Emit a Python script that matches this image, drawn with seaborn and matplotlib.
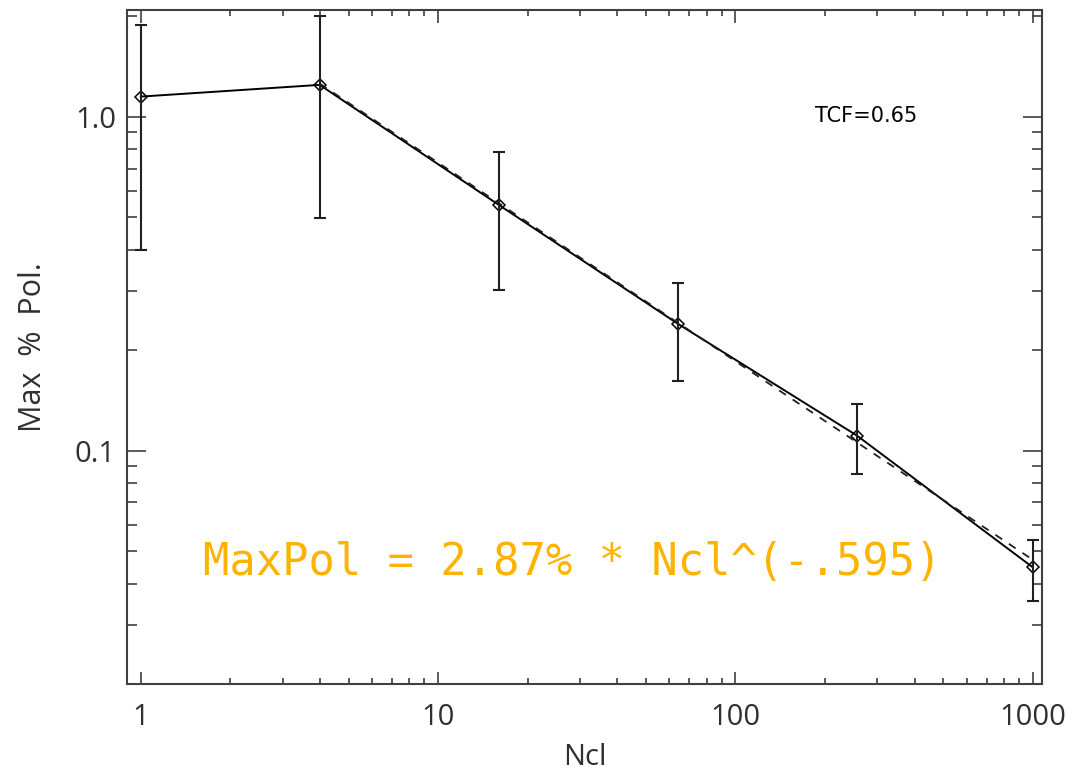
import numpy as np
import pandas as pd
import matplotlib
matplotlib.use("Agg")
import matplotlib.pyplot as plt
import matplotlib.ticker as mticker
import seaborn as sns

# Cluster count and maximum polarisation (percent) with error-bar limits
ncl = [1, 4, 16, 64, 256, 1000]
max_pol = [1.15, 1.247, 0.545, 0.240, 0.111, 0.0447]
err_hi = [1.886, 2.00, 0.784, 0.318, 0.138, 0.0541]
err_lo = [0.40, 0.497, 0.303, 0.1617, 0.0852, 0.0354]

# Power-law fit: MaxPol = fit_norm * Ncl^fit_index
fit_norm = 2.87
fit_index = -0.595
fit_range = [4, 1000]

x_ticks = [1, 10, 100, 1000]
x_tick_labels = ["1", "10", "100", "1000"]
y_ticks = [0.1, 1.0]
y_tick_labels = ["0.1", "1.0"]

sns.set_theme(style="ticks")
plt.rcParams["font.family"] = ["Open Sans", "DejaVu Sans"]

text_col = "#303030"
axis_col = "#404040"

fig = plt.figure(figsize=(10.78, 7.73), dpi=100)
ax = fig.add_axes([127 / 1078, 1 - 684 / 773, (1042 - 127) / 1078, (684 - 10) / 773])

df = pd.DataFrame({"Ncl": ncl, "MaxPol": max_pol})
sns.lineplot(data=df, x="Ncl", y="MaxPol", ax=ax, color="black", lw=1.4,
             marker="D", markersize=6.3, markerfacecolor="none",
             markeredgecolor="black", markeredgewidth=1.1, estimator=None,
             sort=False)

yerr = np.array([np.array(max_pol) - np.array(err_lo),
                 np.array(err_hi) - np.array(max_pol)])
ax.errorbar(ncl, max_pol, yerr=yerr, fmt="none", ecolor="#202020",
            elinewidth=1.5, capsize=4.5, capthick=1.5)

fx = np.array(fit_range, dtype=float)
fy = fit_norm * fx ** fit_index
ax.plot(fx, fy, color="#202020", lw=1.3, ls=(0, (4.5, 4.5)))

ax.set_xscale("log")
ax.set_yscale("log")
ax.set_xlim(0.9, 1073)
ax.set_ylim(0.02, 2.09)

ax.xaxis.set_major_locator(mticker.FixedLocator(x_ticks))
ax.xaxis.set_major_formatter(mticker.FixedFormatter(x_tick_labels))
ax.yaxis.set_major_locator(mticker.FixedLocator(y_ticks))
ax.yaxis.set_major_formatter(mticker.FixedFormatter(y_tick_labels))
ax.xaxis.set_minor_locator(mticker.LogLocator(base=10, subs=np.arange(2, 10), numticks=20))
ax.yaxis.set_minor_locator(mticker.LogLocator(base=10, subs=np.arange(2, 10), numticks=20))
ax.xaxis.set_minor_formatter(mticker.NullFormatter())
ax.yaxis.set_minor_formatter(mticker.NullFormatter())

for s in ax.spines.values():
    s.set_visible(True)
    s.set_color(axis_col)
    s.set_linewidth(1.5)

ax.tick_params(axis="x", which="major", direction="in", length=9, width=1.2,
               color=axis_col, top=True, bottom=True, labelsize=21,
               labelcolor=text_col, pad=14)
ax.tick_params(axis="x", which="minor", direction="in", length=4.5, width=1.2,
               color=axis_col, top=True, bottom=True)
ax.tick_params(axis="y", which="major", direction="in", length=13.5, width=1.2,
               color=axis_col, left=True, right=True, labelsize=21,
               labelcolor=text_col, pad=8)
ax.tick_params(axis="y", which="minor", direction="in", length=7, width=1.2,
               color=axis_col, left=True, right=True)

ax.set_xlabel("Ncl", fontsize=21, color=text_col)
ax.set_ylabel("Max  %  Pol.", fontsize=22, color=text_col)
ax.xaxis.set_label_coords(0.5, -0.088)
ax.yaxis.set_label_coords(-0.086, 0.5)

ax.text(185, 0.968, "TCF=0.65", fontsize=15, color="black",
        family=["DejaVu Sans"], ha="left", va="baseline")
ax.text(1.616, 0.0425, "MaxPol = 2.87% * Ncl^(-.595)", fontsize=31.5,
        color="#FFB300", family=["DejaVu Sans Mono"], ha="left", va="baseline")

ax.grid(False)
fig.savefig("out.png", dpi=100)
